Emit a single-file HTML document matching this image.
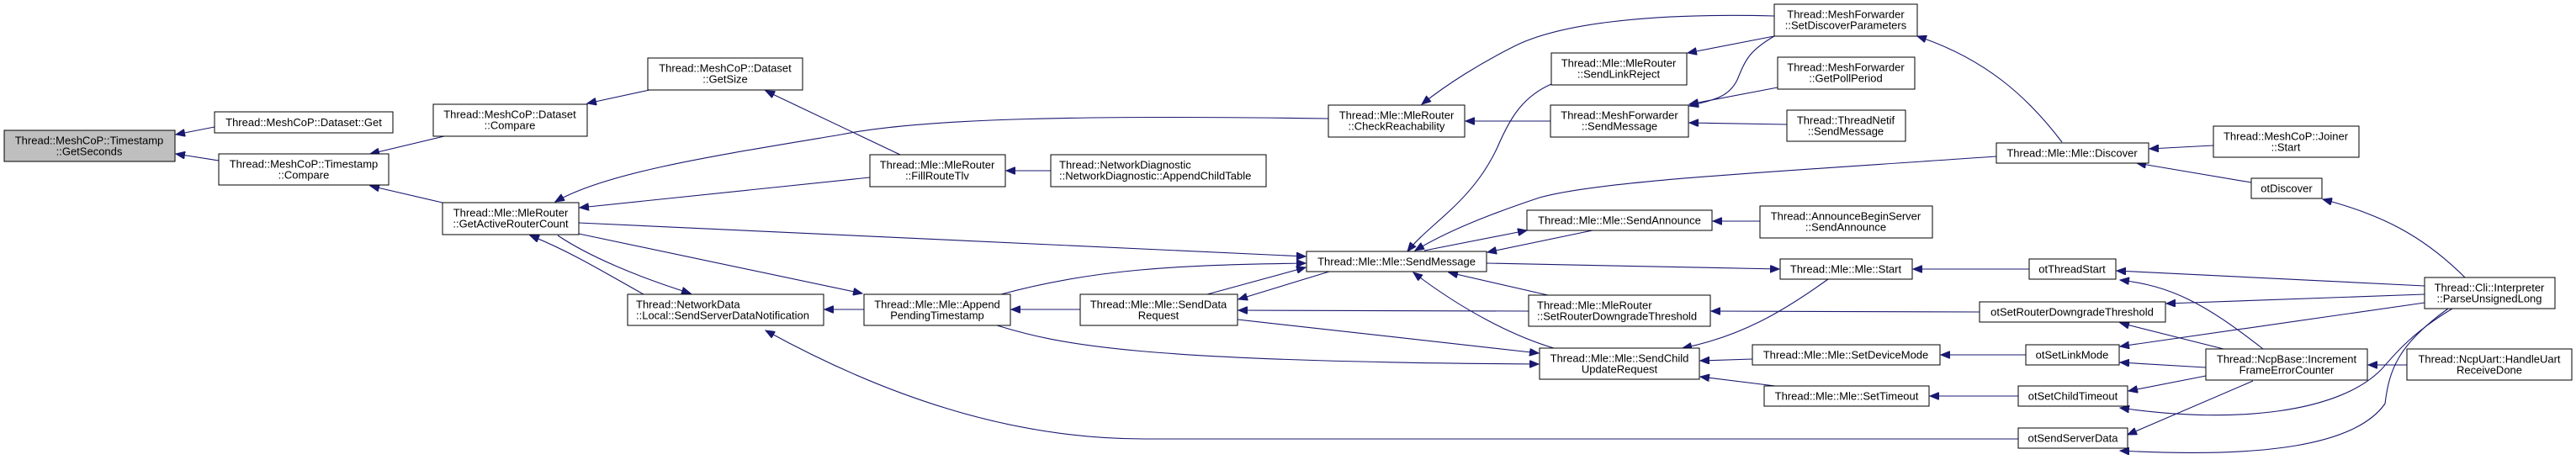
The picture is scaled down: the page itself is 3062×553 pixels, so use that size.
<!DOCTYPE html>
<html><head><meta charset="utf-8"><style>
html,body{margin:0;padding:0;background:#fff;}
svg{display:block;}
text{font-family:"Liberation Sans",Arial,sans-serif;font-size:13px;fill:#000;}
.n{fill:#fff;stroke:#000;stroke-width:1;}
.e{fill:none;stroke:#191970;stroke-width:1.1;}
</style></head><body>
<svg width="3062" height="553" viewBox="0 0 3062 553" xmlns="http://www.w3.org/2000/svg">
<defs><marker id="a" markerUnits="userSpaceOnUse" markerWidth="12" markerHeight="9" refX="11" refY="4.5" orient="auto"><path d="M0,0 L11,4.5 L0,9 z" fill="#191970" stroke="#191970"/></marker></defs>
<g class="e" marker-end="url(#a)">
<path d="M255,151 L209,160"/>
<path d="M260,191 L209,183"/>
<path d="M528,162 L440,183"/>
<path d="M526,241 L440,221"/>
<path d="M772,107 L698,123"/>
<path d="M1070,184 L910,108"/>
<path d="M1034,211 L689,247"/>
<path d="M1579,141 C1300,137 1100,140 1000,160 C850,185 720,205 660,240"/>
<path d="M1249,203 L1196,203"/>
<path d="M765,350 C720,325 680,300 630,280"/>
<path d="M663,280 C700,305 760,330 821,349"/>
<path d="M1027,368 L980,368"/>
<path d="M688,278 L1025,349"/>
<path d="M688,265 L1552,305"/>
<path d="M1284,368 L1202,368"/>
<path d="M1190,350 C1300,320 1400,315 1552,313"/>
<path d="M1435,350 L1552,318"/>
<path d="M1580,323 L1472,356"/>
<path d="M1817,370 L1472,369"/>
<path d="M1471,380 L1829,420"/>
<path d="M1185,387 C1260,410 1350,430 1829,433"/>
<path d="M2399,522 L1360,522 C1200,522 1050,470 910,393"/>
<path d="M1844,100 C1810,115 1795,140 1780,175 C1750,240 1700,265 1673,299"/>
<path d="M2109,19 C1950,15 1850,30 1800,55 C1760,75 1720,100 1690,124"/>
<path d="M1843,144 L1742,144"/>
<path d="M2109,43 L2006,63"/>
<path d="M2109,43 C2080,60 2075,70 2065,95 C2055,115 2040,118 2008,126"/>
<path d="M2113,104 L2008,124"/>
<path d="M2124,148 L2008,146"/>
<path d="M2373,186 C2100,205 1900,215 1830,235 C1770,255 1720,275 1682,298"/>
<path d="M1693,298 L1815,274"/>
<path d="M1893,274 L1768,300"/>
<path d="M2092,263 L2036,263"/>
<path d="M1767,313 L2115,320"/>
<path d="M1840,351 L1722,324"/>
<path d="M1847,414 C1800,400 1740,370 1680,324"/>
<path d="M2173,332 C2120,370 2070,400 2000,414"/>
<path d="M2083,427 L2021,429"/>
<path d="M2110,459 L2021,448"/>
<path d="M2412,320 L2274,320"/>
<path d="M2353,371 L2034,370"/>
<path d="M2408,422 L2307,422"/>
<path d="M2399,471 L2294,471"/>
<path d="M2451,169 C2410,115 2360,70 2279,43"/>
<path d="M2631,173 L2555,177"/>
<path d="M2676,217 L2540,194"/>
<path d="M2930,330 C2880,280 2830,255 2761,237"/>
<path d="M2882,340 L2516,322"/>
<path d="M2882,350 L2575,361"/>
<path d="M2882,360 L2520,412"/>
<path d="M2915,367 C2860,400 2840,430 2830,440 C2780,490 2660,505 2520,485"/>
<path d="M2910,367 C2850,410 2840,440 2835,480 C2800,530 2690,545 2520,536"/>
<path d="M2690,415 C2620,360 2580,340 2520,333"/>
<path d="M2643,415 L2520,384"/>
<path d="M2622,437 L2520,431"/>
<path d="M2622,447 L2530,465"/>
<path d="M2678,453 L2529,517"/>
<path d="M2861,434 L2815,434"/>
</g>
<g>
<rect x="5" y="155" width="203" height="37" fill="#bfbfbf" stroke="#000"/>
<text x="106" y="171.5" text-anchor="middle">Thread::MeshCoP::Timestamp</text><text x="106" y="184.5" text-anchor="middle">::GetSeconds</text>
<rect class="n" x="255" y="133" width="212" height="25"/><text x="361" y="150" text-anchor="middle">Thread::MeshCoP::Dataset::Get</text>
<rect class="n" x="260" y="183" width="202" height="37"/><text x="361" y="199.5" text-anchor="middle">Thread::MeshCoP::Timestamp</text><text x="361" y="212.5" text-anchor="middle">::Compare</text>
<rect class="n" x="515" y="124" width="183" height="38"/><text x="606" y="140.5" text-anchor="middle">Thread::MeshCoP::Dataset</text><text x="606" y="153.5" text-anchor="middle">::Compare</text>
<rect class="n" x="526" y="241" width="162" height="38"/><text x="607" y="257.5" text-anchor="middle">Thread::Mle::MleRouter</text><text x="607" y="270.5" text-anchor="middle">::GetActiveRouterCount</text>
<rect class="n" x="770" y="69" width="184" height="38"/><text x="862" y="85.5" text-anchor="middle">Thread::MeshCoP::Dataset</text><text x="862" y="98.5" text-anchor="middle">::GetSize</text>
<rect class="n" x="746" y="350" width="233" height="37"/><text x="756" y="366.5">Thread::NetworkData</text><text x="756" y="379.5">::Local::SendServerDataNotification</text>
<rect class="n" x="1034" y="184" width="161" height="38"/><text x="1114" y="200.5" text-anchor="middle">Thread::Mle::MleRouter</text><text x="1114" y="213.5" text-anchor="middle">::FillRouteTlv</text>
<rect class="n" x="1249" y="184" width="256" height="38"/><text x="1259" y="200.5">Thread::NetworkDiagnostic</text><text x="1259" y="213.5">::NetworkDiagnostic::AppendChildTable</text>
<rect class="n" x="1027" y="350" width="174" height="37"/><text x="1114" y="366.5" text-anchor="middle">Thread::Mle::Mle::Append</text><text x="1114" y="379.5" text-anchor="middle">PendingTimestamp</text>
<rect class="n" x="1284" y="350" width="187" height="37"/><text x="1377" y="366.5" text-anchor="middle">Thread::Mle::Mle::SendData</text><text x="1377" y="379.5" text-anchor="middle">Request</text>
<rect class="n" x="1579" y="125" width="162" height="38"/><text x="1660" y="141.5" text-anchor="middle">Thread::Mle::MleRouter</text><text x="1660" y="154.5" text-anchor="middle">::CheckReachability</text>
<rect class="n" x="1553" y="299" width="214" height="24"/><text x="1660" y="315.5" text-anchor="middle">Thread::Mle::Mle::SendMessage</text>
<rect class="n" x="2109" y="5" width="170" height="38"/><text x="2194" y="21.5" text-anchor="middle">Thread::MeshForwarder</text><text x="2194" y="34.5" text-anchor="middle">::SetDiscoverParameters</text>
<rect class="n" x="1844" y="63" width="161" height="38"/><text x="1924" y="79.5" text-anchor="middle">Thread::Mle::MleRouter</text><text x="1924" y="92.5" text-anchor="middle">::SendLinkReject</text>
<rect class="n" x="2113" y="68" width="163" height="38"/><text x="2194" y="84.5" text-anchor="middle">Thread::MeshForwarder</text><text x="2194" y="97.5" text-anchor="middle">::GetPollPeriod</text>
<rect class="n" x="1843" y="125" width="164" height="38"/><text x="1925" y="141.5" text-anchor="middle">Thread::MeshForwarder</text><text x="1925" y="154.5" text-anchor="middle">::SendMessage</text>
<rect class="n" x="2124" y="131" width="141" height="37"/><text x="2194" y="147.5" text-anchor="middle">Thread::ThreadNetif</text><text x="2194" y="160.5" text-anchor="middle">::SendMessage</text>
<rect class="n" x="1815" y="250" width="220" height="24"/><text x="1925" y="266.5" text-anchor="middle">Thread::Mle::Mle::SendAnnounce</text>
<rect class="n" x="2092" y="245" width="205" height="38"/><text x="2194" y="261.5" text-anchor="middle">Thread::AnnounceBeginServer</text><text x="2194" y="274.5" text-anchor="middle">::SendAnnounce</text>
<rect class="n" x="2116" y="308" width="157" height="24"/><text x="2194" y="324.5" text-anchor="middle">Thread::Mle::Mle::Start</text>
<rect class="n" x="1817" y="351" width="216" height="37"/><text x="1827" y="367.5">Thread::Mle::MleRouter</text><text x="1827" y="380.5">::SetRouterDowngradeThreshold</text>
<rect class="n" x="1830" y="414" width="190" height="37"/><text x="1925" y="430.5" text-anchor="middle">Thread::Mle::Mle::SendChild</text><text x="1925" y="443.5" text-anchor="middle">UpdateRequest</text>
<rect class="n" x="2083" y="410" width="223" height="24"/><text x="2194" y="426.5" text-anchor="middle">Thread::Mle::Mle::SetDeviceMode</text>
<rect class="n" x="2097" y="459" width="196" height="24"/><text x="2195" y="475.5" text-anchor="middle">Thread::Mle::Mle::SetTimeout</text>
<rect class="n" x="2373" y="170" width="181" height="24"/><text x="2463" y="186.5" text-anchor="middle">Thread::Mle::Mle::Discover</text>
<rect class="n" x="2631" y="150" width="173" height="37"/><text x="2717" y="166.5" text-anchor="middle">Thread::MeshCoP::Joiner</text><text x="2717" y="179.5" text-anchor="middle">::Start</text>
<rect class="n" x="2676" y="212" width="84" height="24"/><text x="2718" y="228.5" text-anchor="middle">otDiscover</text>
<rect class="n" x="2412" y="308" width="103" height="24"/><text x="2463" y="324.5" text-anchor="middle">otThreadStart</text>
<rect class="n" x="2353" y="359" width="221" height="24"/><text x="2463" y="375.5" text-anchor="middle">otSetRouterDowngradeThreshold</text>
<rect class="n" x="2408" y="410" width="111" height="24"/><text x="2463" y="426.5" text-anchor="middle">otSetLinkMode</text>
<rect class="n" x="2399" y="459" width="130" height="24"/><text x="2464" y="475.5" text-anchor="middle">otSetChildTimeout</text>
<rect class="n" x="2399" y="509" width="130" height="24"/><text x="2464" y="525.5" text-anchor="middle">otSendServerData</text>
<rect class="n" x="2882" y="330" width="155" height="37"/><text x="2959" y="346.5" text-anchor="middle">Thread::Cli::Interpreter</text><text x="2959" y="359.5" text-anchor="middle">::ParseUnsignedLong</text>
<rect class="n" x="2622" y="415" width="192" height="37"/><text x="2718" y="431.5" text-anchor="middle">Thread::NcpBase::Increment</text><text x="2718" y="444.5" text-anchor="middle">FrameErrorCounter</text>
<rect class="n" x="2861" y="415" width="196" height="37"/><text x="2959" y="431.5" text-anchor="middle">Thread::NcpUart::HandleUart</text><text x="2959" y="444.5" text-anchor="middle">ReceiveDone</text>
</g>
</svg>
</body></html>
